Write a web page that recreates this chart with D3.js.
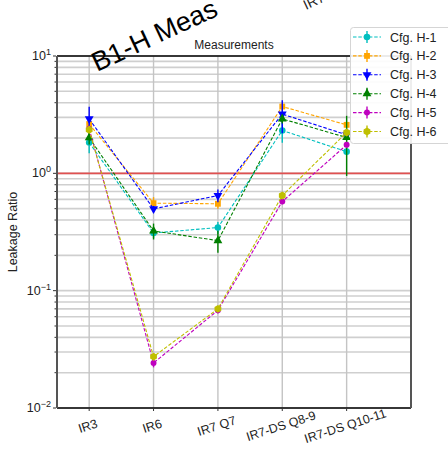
<!DOCTYPE html>
<html>
<head>
<meta charset="utf-8">
<script src="https://cdn.jsdelivr.net/npm/d3@7"></script>
<style>
  body { margin: 0; background: #fff; }
  svg { font-family: "Liberation Sans", Arial, sans-serif; }
</style>
</head>
<body>
<svg id="chart" width="448" height="457"></svg>
<script>
// categories on the x axis
const categories = ["IR3", "IR6", "IR7 Q7", "IR7-DS Q8-9", "IR7-DS Q10-11"];

// one array of values (and errors) per configuration
const seriesNames = ["Cfg. H-1", "Cfg. H-2", "Cfg. H-3", "Cfg. H-4", "Cfg. H-5", "Cfg. H-6"];
const h1 = [1.83, 0.31, 0.345, 2.32, 1.53];
const h2 = [2.63, 0.557, 0.55, 3.71, 2.59];
const h3 = [2.91, 0.498, 0.647, 3.20, 2.13];
const h4 = [2.01, 0.323, 0.267, 2.91, 2.02];
const h5 = [2.40, 0.0242, 0.068, 0.575, 1.75];
const h6 = [2.35, 0.0274, 0.070, 0.647, 2.23];
const h1Err = [0.35, 0.03, 0.04, 0.5, 0.1];
const h2Err = [0.25, 0.07, 0.05, 0.3, 0.15];
const h3Err = [0.78, 0.03, 0.08, 1.0, 0.1];
const h4Err = [0.25, 0.05, 0.057, 0.25, 1.07];
const h5Err = [0.15, 0.002, 0.004, 0.03, 0.1];
const h6Err = [0.15, 0.002, 0.004, 0.03, 0.1];
const yTicks = [0.01, 0.1, 1, 10];
const yTickExp = ["\u22122", "\u22121", "0", "1"];

const colors = ["#00bfbf", "#ffa500", "#0000ff", "#008000", "#bf00bf", "#bfbf00"];
const symbols = [d3.symbolCircle, d3.symbolSquare, "tridown", d3.symbolTriangle, d3.symbolCircle, "hex"];
const symSizes = [34, 34, 34, 34, 28, 40];

const allVals = [h1, h2, h3, h4, h5, h6];
const allErr = [h1Err, h2Err, h3Err, h4Err, h5Err, h6Err];

const svg = d3.select("#chart");
const margin = {left: 57, right: 411, top: 56, bottom: 408};

const x = d3.scaleLinear().domain([-0.5, 5]).range([margin.left, margin.right]);
const y = d3.scaleLog().domain([0.01, 10]).range([margin.bottom, margin.top]);

// grid: minor horizontal lines
const minorTicks = y.ticks();
svg.append("g").selectAll("line")
  .data(minorTicks)
  .enter().append("line")
  .attr("x1", margin.left).attr("x2", margin.right)
  .attr("y1", d => y(d)).attr("y2", d => y(d))
  .attr("stroke", "#cfcfcf").attr("stroke-width", 1.6);

// vertical grid at categories
svg.append("g").selectAll("line")
  .data(categories)
  .enter().append("line")
  .attr("x1", (d, i) => x(i)).attr("x2", (d, i) => x(i))
  .attr("y1", margin.top).attr("y2", margin.bottom)
  .attr("stroke", "#c4c4c4").attr("stroke-width", 1.4);

// ratio = 1 line
svg.append("line")
  .attr("x1", margin.left).attr("x2", margin.right)
  .attr("y1", y(1)).attr("y2", y(1))
  .attr("stroke", "#e05050").attr("stroke-width", 1.6);

// spines
svg.append("line").attr("x1", margin.left).attr("x2", margin.right)
  .attr("y1", margin.top).attr("y2", margin.top).attr("stroke", "#000").attr("stroke-width", 1.3);
svg.append("line").attr("x1", margin.left).attr("x2", margin.right)
  .attr("y1", margin.bottom).attr("y2", margin.bottom).attr("stroke", "#000").attr("stroke-width", 1.3);
svg.append("line").attr("x1", margin.left).attr("x2", margin.left)
  .attr("y1", margin.top).attr("y2", margin.bottom).attr("stroke", "#555").attr("stroke-width", 2);
svg.append("line").attr("x1", margin.right).attr("x2", margin.right)
  .attr("y1", margin.top).attr("y2", margin.bottom).attr("stroke", "#555").attr("stroke-width", 2);

// y ticks
svg.append("g").selectAll("line")
  .data(minorTicks)
  .enter().append("line")
  .attr("x1", margin.left - 1).attr("x2", d => yTicks.indexOf(d) >= 0 ? margin.left - 4 : margin.left - 2.5)
  .attr("y1", d => y(d)).attr("y2", d => y(d))
  .attr("stroke", "#333").attr("stroke-width", 1);

const yl = svg.append("g").selectAll("text")
  .data(yTicks)
  .enter().append("text")
  .attr("x", margin.left - 6).attr("y", d => y(d) + 4)
  .attr("text-anchor", "end")
  .attr("font-size", 12.5).attr("fill", "#222");
yl.append("tspan").text("10");
yl.append("tspan").attr("dy", -5).attr("font-size", 9).text((d, i) => yTickExp[i]);

// x ticks
svg.append("g").selectAll("line")
  .data(categories)
  .enter().append("line")
  .attr("x1", (d, i) => x(i)).attr("x2", (d, i) => x(i))
  .attr("y1", margin.bottom).attr("y2", margin.bottom + 3)
  .attr("stroke", "#333");
svg.append("g").selectAll("text")
  .data(categories)
  .enter().append("text")
  .attr("transform", (d, i) => `translate(${x(i)},${margin.bottom + 22}) rotate(-18)`)
  .attr("text-anchor", "middle")
  .attr("font-size", 12.5).attr("fill", "#222")
  .text(d => d);

// axis label + title
svg.append("text")
  .attr("transform", `translate(17,${(margin.top + margin.bottom) / 2}) rotate(-90)`)
  .attr("text-anchor", "middle").attr("font-size", 12.5).attr("fill", "#222")
  .text("Leakage Ratio");
svg.append("text")
  .attr("x", (margin.left + margin.right) / 2).attr("y", 49)
  .attr("text-anchor", "middle").attr("font-size", 12).attr("fill", "#222")
  .text("Measurements");

svg.append("text")
  .attr("transform", "translate(97,72) rotate(-25)")
  .attr("font-size", 27).attr("fill", "#000")
  .text("B1-H Meas");
svg.append("text")
  .attr("transform", "translate(306,10) rotate(-25)")
  .attr("font-size", 14).attr("fill", "#222")
  .text("IR7");

function markerPath(s, size) {
  if (s === "tridown") return d3.symbol(d3.symbolTriangle, size)();
  if (s === "hex") {
    const r = Math.sqrt(size / 2.6);
    const pts = d3.range(6).map(k => {
      const a = Math.PI / 6 + k * Math.PI / 3;
      return [r * Math.cos(a), r * Math.sin(a)];
    });
    return "M" + pts.map(p => p.join(",")).join("L") + "Z";
  }
  return d3.symbol(s, size)();
}

const line = d3.line().x((d, i) => x(i)).y(d => y(d));

seriesNames.forEach((name, si) => {
  const vals = allVals[si];
  const errs = allErr[si];
  const g = svg.append("g");
  g.append("path").datum(vals)
    .attr("d", line).attr("fill", "none")
    .attr("stroke", colors[si]).attr("stroke-width", 1.1)
    .attr("stroke-dasharray", "3.5,1.8");
  g.selectAll("line.err")
    .data(vals)
    .enter().append("line")
    .attr("x1", (d, i) => x(i)).attr("x2", (d, i) => x(i))
    .attr("y1", (d, i) => y(d + errs[i]))
    .attr("y2", (d, i) => y(Math.max(d - errs[i], 0.011)))
    .attr("stroke", colors[si]).attr("stroke-width", 1.4);
  g.selectAll("path.mk")
    .data(vals)
    .enter().append("path")
    .attr("d", markerPath(symbols[si], symSizes[si]))
    .attr("transform", (d, i) => `translate(${x(i)},${y(d)})` + (symbols[si] === "tridown" ? " rotate(180)" : ""))
    .attr("fill", colors[si]);
});

// legend
const leg = svg.append("g");
leg.append("rect")
  .attr("x", 350.5).attr("y", 27.5).attr("width", 110).attr("height", 116)
  .attr("rx", 3).attr("fill", "#fff").attr("fill-opacity", 0.9)
  .attr("stroke", "#d5d5d5");
seriesNames.forEach((name, si) => {
  const ly = 37 + si * 18.9;
  leg.append("line").attr("x1", 353).attr("x2", 381).attr("y1", ly).attr("y2", ly)
    .attr("stroke", colors[si]).attr("stroke-width", 1.1).attr("stroke-dasharray", "3.5,1.8");
  leg.append("line").attr("x1", 367).attr("x2", 367).attr("y1", ly - 6).attr("y2", ly + 6)
    .attr("stroke", colors[si]).attr("stroke-width", 1.4);
  leg.append("path").attr("d", markerPath(symbols[si], symSizes[si]))
    .attr("transform", `translate(367,${ly})` + (symbols[si] === "tridown" ? " rotate(180)" : ""))
    .attr("fill", colors[si]);
  leg.append("text").attr("x", 390).attr("y", ly + 4.5)
    .attr("font-size", 12.5).attr("fill", "#222").text(name);
});
</script>
</body>
</html>
